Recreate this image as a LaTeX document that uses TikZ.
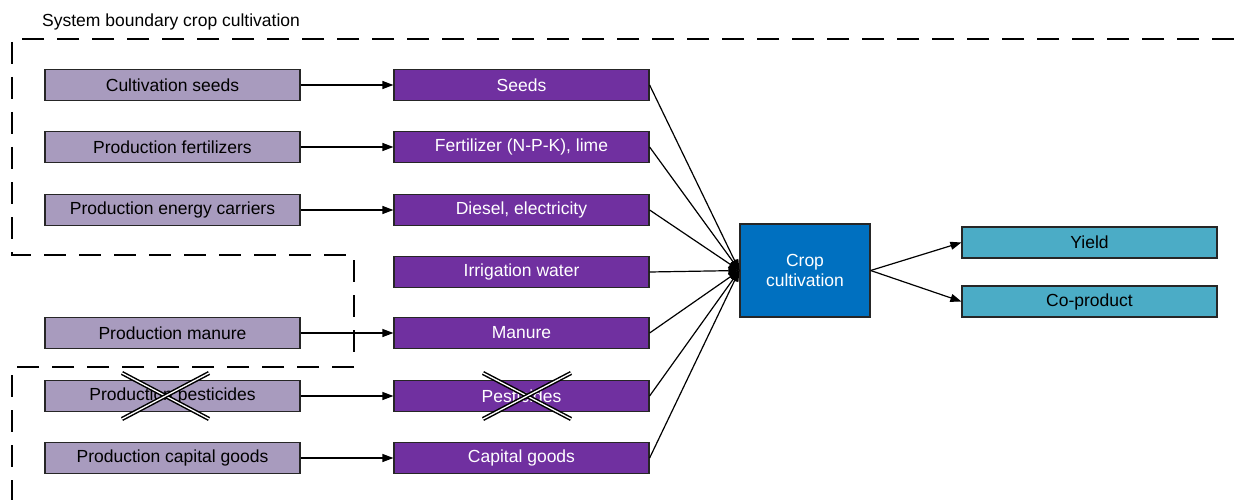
\documentclass[tikz,border=0pt]{standalone}
\usepackage{fontspec}
\setmainfont{Liberation Sans}
\usetikzlibrary{arrows.meta}
\definecolor{lightpurple}{RGB}{168,155,190}
\definecolor{darkpurple}{RGB}{112,48,160}
\definecolor{cropblue}{RGB}{0,112,192}
\definecolor{outcyan}{RGB}{75,172,198}
\tikzset{
  box/.style={draw=black!85, line width=1.2pt, minimum width=255pt, minimum height=31pt, inner sep=0pt, font=\fontsize{17.5}{20}\selectfont},
  srcbox/.style={box, fill=lightpurple, text=black},
  inbox/.style={box, fill=darkpurple, text=white},
  outbox/.style={box, fill=outcyan, text=black},
  cropbox/.style={draw=black!85, line width=1.2pt, fill=cropblue, text=white, minimum width=130pt, minimum height=93pt, inner sep=0pt, align=center, font=\fontsize{17.5}{20}\selectfont},
  flow/.style={line width=1.2pt, -{Triangle[length=11pt,width=8pt]}},
  boundary/.style={line width=1.2pt, dash pattern=on 22pt off 13pt},
  crossline/.style={line width=1.5pt, double=white, double distance=1.3pt},
  lbl/.style={inner sep=0pt, font=\fontsize{17.5}{20}\selectfont}
}
\begin{document}
\begin{tikzpicture}[x=1pt,y=-1pt]
\useasboundingbox (0,0) rectangle (1234,500);
% boundary
\node[lbl, anchor=west] (title) at (42,22) {System boundary crop cultivation};
\draw[boundary] (1234,39) -- (12,39) -- (12,255) -- (354,255) -- (354,358);
\draw[boundary] (354,367) -- (12,367) -- (12,500);
% source boxes
\node[srcbox] (s1) at (172.5,85) {Cultivation seeds};
\node[srcbox] (s2) at (172.5,147) {Production fertilizers};
\node[srcbox] (s3) at (172.5,210) {Production energy carriers};
\node[srcbox] (s5) at (172.5,333) {Production manure};
\node[srcbox] (s6) at (172.5,396) {Production pesticides};
\node[srcbox] (s7) at (172.5,458) {Production capital goods};
% input boxes
\node[inbox] (i1) at (521.5,85) {Seeds};
\node[inbox] (i2) at (521.5,147) {Fertilizer (N-P-K), lime};
\node[inbox] (i3) at (521.5,210) {Diesel, electricity};
\node[inbox] (i4) at (521.5,272) {Irrigation water};
\node[inbox] (i5) at (521.5,333) {Manure};
\node[inbox] (i6) at (521.5,396) {Pesticides};
\node[inbox] (i7) at (521.5,458) {Capital goods};
% crop and outputs
\node[cropbox] (crop) at (805,270.5) {Crop\\cultivation};
\node[outbox] (yield) at (1089.5,242.5) {Yield};
\node[outbox] (cop) at (1089.5,301.5) {Co-product};
% source -> input arrows
\foreach \k in {1,2,3,5,6,7} {\draw[flow] (s\k) -- (i\k);}
% input -> crop arrows
\foreach \k in {1,...,7} {\draw[flow] (i\k.east) -- (crop.west);}
% crop -> outputs
\draw[flow] (crop.east) -- (yield.west);
\draw[flow] (crop.east) -- (cop.west);
% crosses
\coordinate (c1a) at (122,373); \coordinate (c1b) at (209,419);
\coordinate (c1c) at (122,419); \coordinate (c1d) at (209,373);
\coordinate (c2a) at (483,373); \coordinate (c2b) at (571,419);
\coordinate (c2c) at (483,419); \coordinate (c2d) at (571,373);
\draw[crossline] (c1a) -- (c1b);
\draw[crossline] (c1c) -- (c1d);
\draw[crossline] (c2a) -- (c2b);
\draw[crossline] (c2c) -- (c2d);
\end{tikzpicture}
\end{document}
